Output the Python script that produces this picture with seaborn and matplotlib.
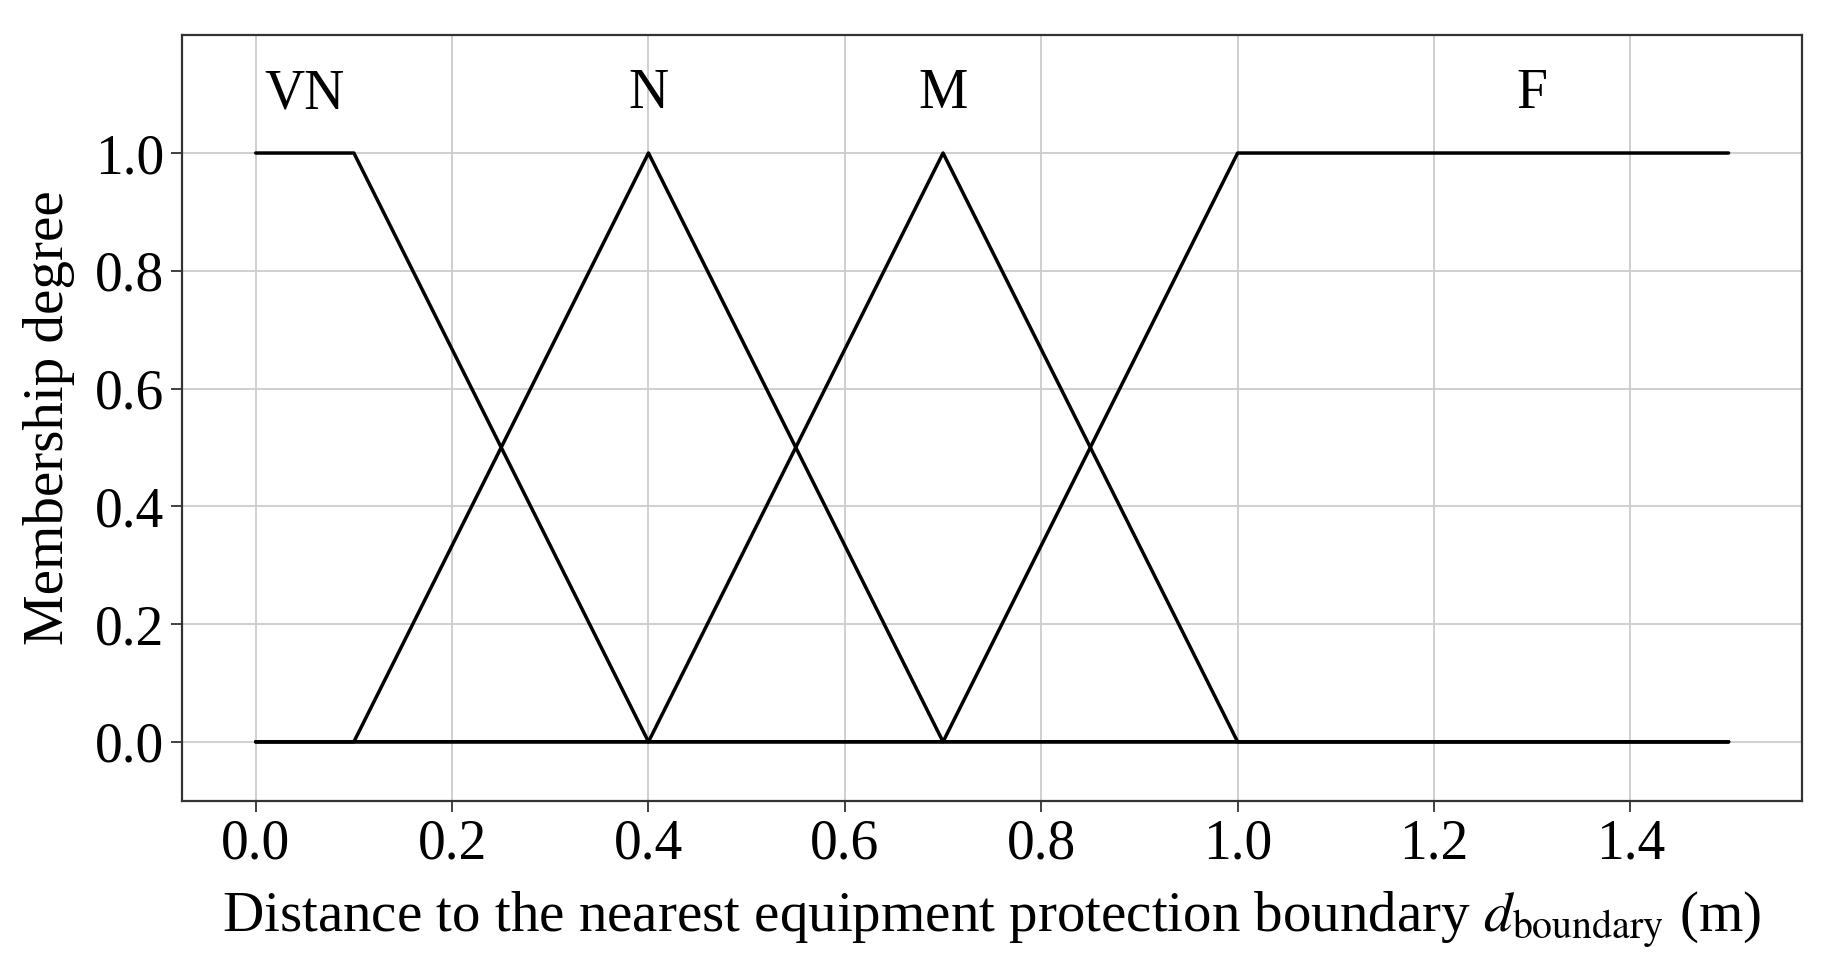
import numpy as np
import pandas as pd
import matplotlib
matplotlib.use("Agg")
import matplotlib.pyplot as plt
import seaborn as sns

# membership function breakpoints (distance in m, degree)
vn_x = [0.0, 0.1, 0.4, 1.5]
vn_y = [1.0, 1.0, 0.0, 0.0]
n_x = [0.0, 0.1, 0.4, 0.7, 1.5]
n_y = [0.0, 0.0, 1.0, 0.0, 0.0]
m_x = [0.0, 0.4, 0.7, 1.0, 1.5]
m_y = [0.0, 0.0, 1.0, 0.0, 0.0]
f_x = [0.0, 0.7, 1.0, 1.5]
f_y = [0.0, 0.0, 1.0, 1.0]

labels = ["VN", "N", "M", "F"]
label_x = [0.05, 0.4, 0.7, 1.3]
label_y = 1.1

sns.set_style("whitegrid")
plt.rcParams['font.family'] = ['Liberation Serif', 'DejaVu Serif']
plt.rcParams['mathtext.fontset'] = 'stix'
plt.rcParams['text.color'] = 'black'
plt.rcParams['axes.labelcolor'] = 'black'
plt.rcParams['xtick.color'] = 'black'
plt.rcParams['ytick.color'] = 'black'

fig, ax = plt.subplots(figsize=(18.39, 9.8), dpi=100)
fig.subplots_adjust(left=0.099, right=0.980, top=0.964, bottom=0.183)

series = [(vn_x, vn_y), (n_x, n_y), (m_x, m_y), (f_x, f_y)]
for xs, ys in series:
    df = pd.DataFrame({"d": xs, "mu": ys})
    sns.lineplot(data=df, x="d", y="mu", color="black", linewidth=2.5, ax=ax)

for lab, lx in zip(labels, label_x):
    ax.text(lx, label_y, lab, ha="center", va="center", fontsize=40)

ax.set_xlim(-0.075, 1.575)
ax.set_ylim(-0.1, 1.2)
ax.set_xticks(np.arange(0, 1.5, 0.2))
ax.set_yticks(np.arange(0, 1.01, 0.2))
ax.set_xticklabels([f"{v:.1f}" for v in np.arange(0, 1.5, 0.2)])
ax.set_yticklabels([f"{v:.1f}" for v in np.arange(0, 1.01, 0.2)])
ax.tick_params(axis="both", labelsize=40, length=8, width=1.3,
               direction="out", bottom=True, left=True, pad=5)
ax.tick_params(axis="both", color="#333333")
ax.grid(True, color="#cccccc", linewidth=1.3)
for s in ax.spines.values():
    s.set_color("#333333")
    s.set_linewidth(1.6)

ax.set_xlabel(r"Distance to the nearest equipment protection boundary $d_{\mathrm{boundary}}$ (m)",
              fontsize=41, labelpad=14)
ax.set_ylabel("Membership degree", fontsize=41, labelpad=14)

fig.savefig("out.png", dpi=100, facecolor="white")
